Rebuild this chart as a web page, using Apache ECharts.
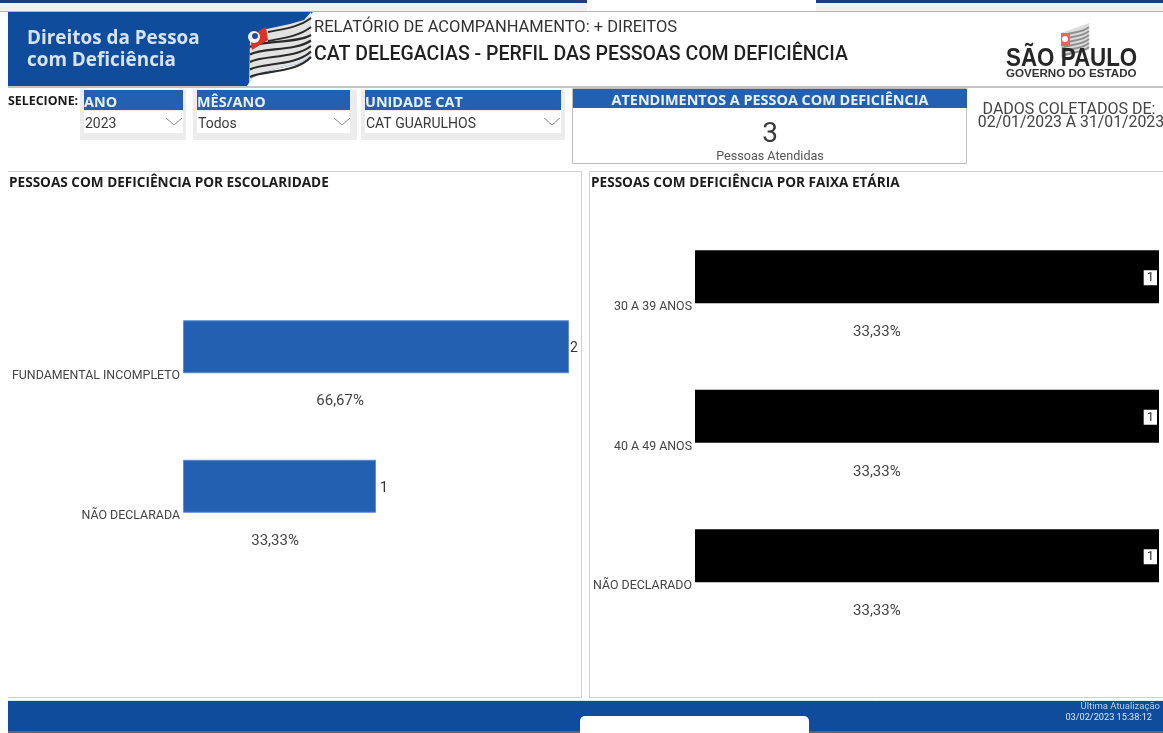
<!DOCTYPE html>
<html><head><meta charset="utf-8">
<style>html,body{margin:0;padding:0;background:#fff}#c{width:1163px;height:733px}</style>
<script src="https://cdn.jsdelivr.net/npm/echarts@6/dist/echarts.min.js"></script>
</head><body><div id="c"></div>
<script>
const schoolingCategories = ['FUNDAMENTAL INCOMPLETO', 'NÃO DECLARADA'];
const schoolingValues = [2, 1];
const schoolingShares = ['66,67%', '33,33%'];
const ageCategories = ['30 A 39 ANOS', '40 A 49 ANOS', 'NÃO DECLARADO'];
const ageValues = [1, 1, 1];
const ageShares = ['33,33%', '33,33%', '33,33%'];

const FONT = 'Roboto';
const BLUE = '#2360b2', NAVY = '#0f4c9c', LINE = '#cfcfcf';
const g = [];
const rect = (x, y, w, h, fill, extra) => g.push(Object.assign({type:'rect', shape:{x, y, width:w, height:h}, style:{fill}, silent:true}, extra || {}));
const box = (x, y, w, h, stroke) => g.push({type:'rect', shape:{x, y, width:w, height:h}, style:{fill:'none', stroke, lineWidth:1}, silent:true});
const text = (x, y, t, size, fill, opts) => { opts = opts || {};
  g.push({type:'text', x, y, scaleX:opts.scaleX || 1, silent:true, style:{text:t, fill, font:(opts.weight||'normal')+' '+size+'px '+(opts.family||FONT), align:opts.align||'left', verticalAlign:'middle'}}); };
const curve = (pts, stroke, w) => g.push({type:'bezierCurve', silent:true,
  shape:{x1:pts[0], y1:pts[1], cpx1:pts[2], cpy1:pts[3], cpx2:pts[4], cpy2:pts[5], x2:pts[6], y2:pts[7]},
  style:{stroke, lineWidth:w, fill:'none'}});
const chevron = (x, y) => g.push({type:'polyline', silent:true, shape:{points:[[x,y],[x+8,y+7],[x+16,y]]}, style:{stroke:'#8a8a8a', lineWidth:1, fill:'none'}});

// top strip and the popup cut by the crop
rect(0, 0, 1163, 3, '#1b3f78');
rect(0, 3, 1163, 8, '#f4f0ef');
rect(587, 0, 229, 11, '#ffffff');
rect(0, 11, 1163, 1, '#b5b5b5');

// banner
rect(8, 12, 305, 74, NAVY);
g.push({type:'polygon', silent:true, shape:{points:[[313,12],[314,86],[247,86],[252,78],[264,72],[280,68],[298,64],[311,56],[311,14]]}, style:{fill:'#fff'}});
rect(8, 86, 1155, 2, '#c4c4c4');
text(27, 38.5, 'Direitos da Pessoa', 18.9, '#d5e3f3', {weight:'bold', family:'Open Sans'});
text(27, 60.5, 'com Deficiência', 18.9, '#d5e3f3', {weight:'bold', family:'Open Sans'});
// flag
g.push({type:'polygon', silent:true, shape:{points:[[250,42],[262,30],[290,24],[304,20],[311,12],[311,56],[298,64],[280,68],[264,72],[252,78],[249,84]]}, style:{fill:'#e2e2e2'}});
[0, 1].forEach(i => curve([268, 32 + i * 9, 282, 29 + i * 9, 298, 28 + i * 9, 311, 18 + i * 9], '#2a2a2a', 2));
[0, 1, 2, 3, 4].forEach(i => curve([250, 47 + i * 7.5, 262, 40 + i * 7.5, 295, 44 + i * 7.5, 311, 35 + i * 5.5], '#2a2a2a', 2.2));
g.push({type:'polygon', silent:true, shape:{points:[[250,36],[266,27],[268,40],[252,50]]}, style:{fill:'#d8352a'}});
g.push({type:'circle', silent:true, shape:{cx:254, cy:37, r:6}, style:{fill:'#f4f4f4'}});
g.push({type:'circle', silent:true, shape:{cx:255, cy:36, r:3}, style:{fill:'#1d4f9c'}});

text(314, 27.5, 'RELATÓRIO DE ACOMPANHAMENTO: + DIREITOS', 16.5, '#333');
text(314, 55.5, 'CAT DELEGACIAS - PERFIL DAS PESSOAS COM DEFICIÊNCIA', 19.5, '#1f1f1f', {weight:'500'});

// government logo
g.push({type:'polygon', silent:true, shape:{points:[[1061,33],[1075,28],[1089,23],[1089,50],[1075,53],[1061,58]]}, style:{fill:'#dddddd'}});
[0, 1, 2, 3, 4, 5].forEach(i => curve([1062, 36 + i * 4, 1072, 32 + i * 4, 1082, 33 + i * 4, 1089, 27 + i * 4], '#8f8f8f', 2));
rect(1061, 33, 9, 13, '#e0695c');
g.push({type:'circle', silent:true, shape:{cx:1065, cy:39, r:3}, style:{fill:'#fff'}});
text(1006, 58.5, 'SÃO PAULO', 26, '#262626', {weight:'bold', family:'Liberation Sans', scaleX:0.86});
text(1006, 74, 'GOVERNO DO ESTADO', 11.6, '#333', {weight:'bold', family:'Liberation Sans'});

// filters
text(8, 101, 'SELECIONE:', 12.4, '#1a1a1a', {weight:'bold', family:'Open Sans'});
[[80, 106, 84, 99, 'ANO', '2023', 166], [193, 164, 197, 153, 'MÊS/ANO', 'Todos', 334], [361, 204, 365, 196, 'UNIDADE CAT', 'CAT GUARULHOS', 544]].forEach(f => {
  rect(f[0], 90, f[1], 50, '#ececec');
  rect(f[2], 90, f[3], 20, BLUE);
  rect(f[2], 111, f[3], 22, '#ffffff');
  text(f[2], 102.5, f[4], 14.4, '#e8f0fa', {weight:'bold', family:'Open Sans'});
  text(f[2] + 1, 124.5, f[5], 14, '#3a3a3a');
  chevron(f[6], 118);
});

// KPI card
box(572.5, 88.5, 394, 75, '#bdbdbd');
rect(573, 89, 394, 19, BLUE);
text(770, 100.5, 'ATENDIMENTOS A PESSOA COM DEFICIÊNCIA', 14.4, '#e8f0fa', {weight:'bold', family:'Open Sans', align:'center'});
text(770, 134.5, '3', 28, '#3a3a3a', {align:'center'});
text(770, 156.5, 'Pessoas Atendidas', 12.6, '#555', {align:'center'});
text(1069, 109.5, 'DADOS COLETADOS DE:', 16, '#444', {align:'center'});
text(1071, 123.5, '02/01/2023 A 31/01/2023', 15.8, '#444', {align:'center'});

// panels
box(8.5, 171.5, 573, 526, LINE);
box(589.5, 171.5, 580, 526, LINE);
rect(0, 172, 9, 525, '#fff');
text(9, 183, 'PESSOAS COM DEFICIÊNCIA POR ESCOLARIDADE', 13.6, '#1c1c1c', {weight:'bold', family:'Open Sans'});
text(591, 183, 'PESSOAS COM DEFICIÊNCIA POR FAIXA ETÁRIA', 13.6, '#1c1c1c', {weight:'bold', family:'Open Sans'});

// footer
rect(8, 700, 1155, 1, '#d5ecf5');
rect(8, 701, 1155, 30, NAVY);
rect(8, 731, 1155, 2, '#5f6670');
rect(580, 716, 229, 17, '#ffffff', {shape:{x:580, y:716, width:229, height:17, r:[5,5,0,0]}});
text(1160, 706.5, 'Última Atualização', 9.5, '#bcd0ea', {align:'right'});
text(1152, 717.5, '03/02/2023 15:38:12', 9.2, '#dbe6f4', {align:'right'});

const catAxis = (gridIndex, data, shift) => ({type:'category', gridIndex, data, inverse:true,
  axisLine:{show:false}, axisTick:{show:false}, splitLine:{show:false},
  axisLabel:{interval:0, margin:3, color:'#444', fontFamily:FONT, fontSize:12.4, verticalAlign:'top', lineHeight:shift}});
const valAxis = (gridIndex, max) => ({type:'value', gridIndex, min:0, max, show:false, splitLine:{show:false}});
const shareSeries = (idx, values, shares, xs, y) => ({type:'bar', xAxisIndex:idx, yAxisIndex:idx, barWidth:53, barGap:'-100%', silent:true,
  itemStyle:{color:'transparent'}, z:3,
  data:values.map((v, i) => ({value:v, label:{show:true, position:[xs[i], y], formatter:shares[i], align:'center', verticalAlign:'middle', color:'#444', fontFamily:FONT, fontSize:15}}))});

const chart = echarts.init(document.getElementById('c'), null, {renderer:'canvas'});
chart.setOption({
  animation:false, backgroundColor:'#ffffff', graphic:{elements:g},
  grid:[{left:183, width:386, top:277, height:279, containLabel:false}, {left:695, width:464, top:207, height:418.5, containLabel:false}],
  xAxis:[valAxis(0, 2), valAxis(1, 1)],
  yAxis:[catAxis(0, schoolingCategories, 59), catAxis(1, ageCategories, 61)],
  series:[
    {type:'bar', xAxisIndex:0, yAxisIndex:0, barWidth:53, itemStyle:{color:BLUE, borderColor:'#5b8fd2', borderWidth:1}, z:2,
      data:schoolingValues.map((v, i) => ({value:v, label:{show:true, position:'right', distance:i === 0 ? 0 : 3, offset:[0,2], formatter:'{c}', color:'#333', fontFamily:FONT, fontSize:14, backgroundColor:'#fff', padding:[3,1]}}))},
    shareSeries(0, schoolingValues, schoolingShares, ['40.7%', '47.7%'], '153%'),
    {type:'bar', xAxisIndex:1, yAxisIndex:1, barWidth:53, itemStyle:{color:'#000000'}, z:2,
      data:ageValues.map(v => ({value:v, label:{show:true, position:'insideRight', distance:2, offset:[0,1], formatter:'{c}', color:'#333', fontFamily:FONT, fontSize:13, backgroundColor:'#fff', padding:[1,3]}}))},
    shareSeries(1, ageValues, ageShares, ['39.2%', '39.2%', '39.2%'], '155%')
  ]
});
</script></body></html>
